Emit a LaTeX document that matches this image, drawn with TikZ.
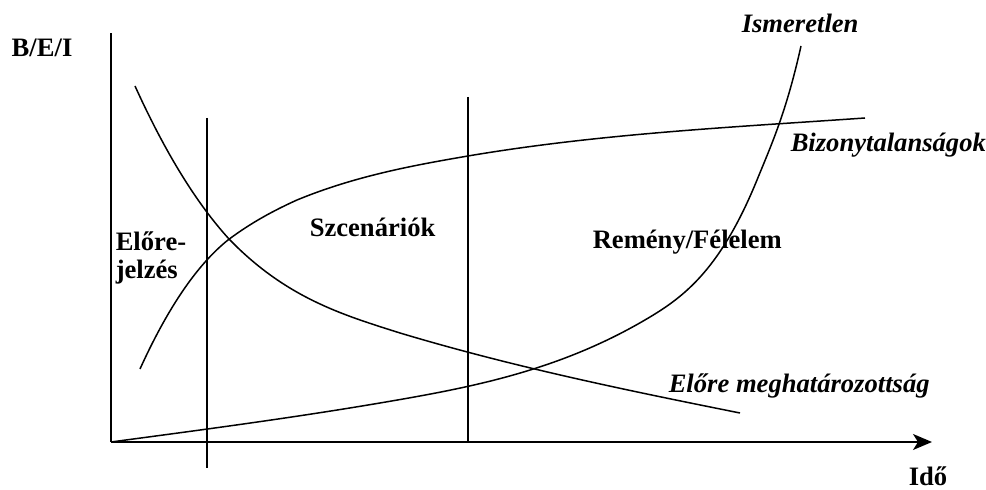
\documentclass[tikz,border=0pt]{standalone}
\usepackage{fontspec}
\setmainfont{Liberation Serif}
\usetikzlibrary{arrows.meta}

\begin{document}
\begin{tikzpicture}[x=0.5pt, y=-0.5pt, line width=0.75pt,
  lbl/.style={inner sep=0pt, anchor=base west, font=\fontsize{13.3}{14.2}\selectfont\bfseries},
  ilbl/.style={lbl, font=\fontsize{13.3}{14.2}\selectfont\bfseries\itshape}]
  \useasboundingbox (0,0) rectangle (986,490);

  % Axes
  \coordinate (O) at (111,442);
  \coordinate (ytop) at (111,33);
  \coordinate (xend) at (932,442);
  \draw (O) -- (ytop);
  \draw[-{Stealth[length=9.5pt, width=8pt, inset=2.5pt]}] (O) -- (xend);
  \node[lbl] (yl) at (11,57) {B/E/I};
  \node[lbl] (xl) at (908,486) {Idő};

  % Phase borders
  \coordinate (b1top) at (207,118);
  \coordinate (b1bot) at (207,468);
  \coordinate (b2top) at (468,97);
  \coordinate (b2bot) at (468,442);
  \draw (b1top) -- (b1bot);
  \draw (b2top) -- (b2bot);

  % Predetermination (falling curve)
  \coordinate (pd0) at (135,86);
  \coordinate (pd1) at (740,413);
  \draw (pd0) .. controls (166.3,155) and (197.7,204.6) .. (229,239)
    .. controls (286,298) and (343,315) .. (400,333)
    .. controls (513.3,367) and (626.7,390.3) .. (pd1);

  % Uncertainties (rising, flattening)
  \coordinate (bz0) at (140,369);
  \coordinate (bz1) at (865,118);
  \draw (bz0) .. controls (169.3,304.5) and (198.7,263.5) .. (228,240)
    .. controls (251,222.7) and (274,210.4) .. (297,200)
    .. controls (354,176.5) and (411,165.7) .. (468,156)
    .. controls (600,133.6) and (733,127.2) .. (bz1);

  % Unknown (steep at the end)
  \coordinate (is1) at (801,46);
  \draw (O) .. controls (200.7,430) and (290.3,418.2) .. (380,403)
    .. controls (470,387.7) and (560,371) .. (650,317)
    .. controls (685.7,295.6) and (721.3,267.4) .. (757,180)
    .. controls (771.7,144) and (786.3,112) .. (is1);

  % Labels
  \node[ilbl] (ism) at (741,33) {Ismeretlen};
  \node[ilbl] (biz) at (790,152) {Bizonytalanságok};
  \node[ilbl] (elo) at (668,393) {Előre meghatározottság};
  \node[lbl, align=left] (fc) at (115,279) {Előre-\\jelzés};
  \node[lbl] (sc) at (309,237) {Szcenáriók};
  \node[lbl] (rf) at (592,249) {Remény/Félelem};
\end{tikzpicture}
\end{document}
